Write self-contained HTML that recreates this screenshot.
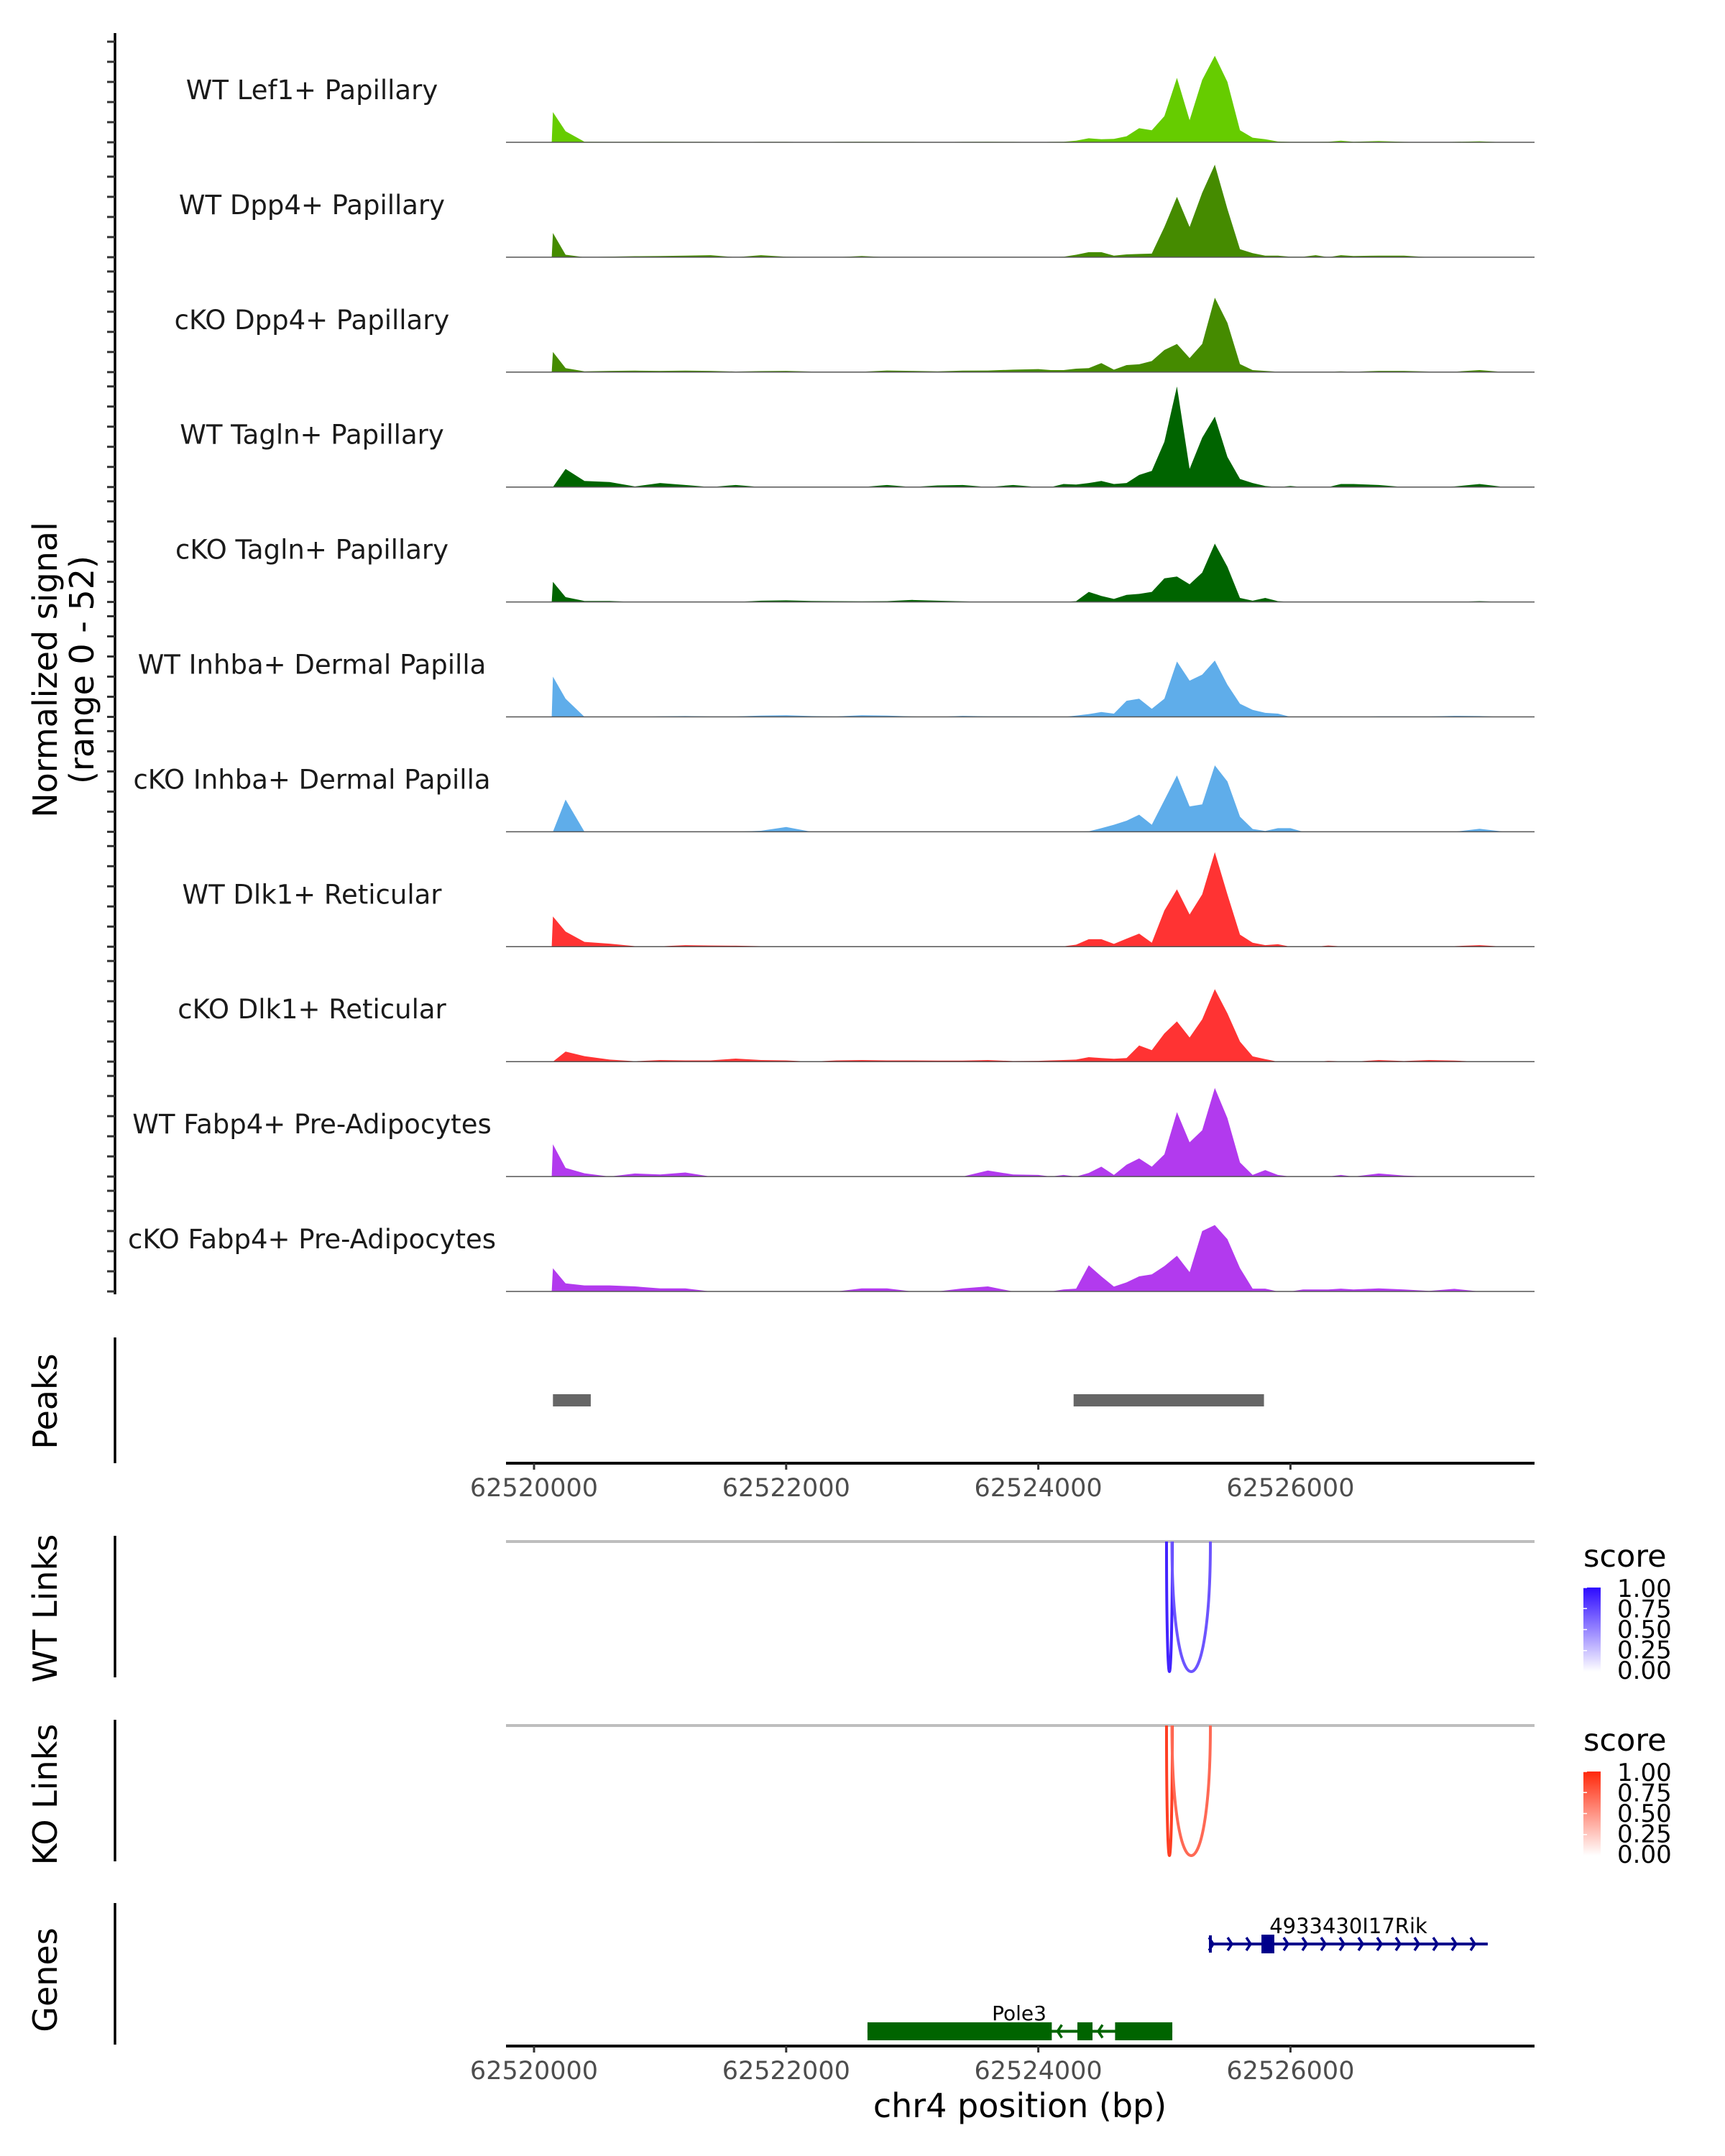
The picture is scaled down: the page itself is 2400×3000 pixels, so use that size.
<!DOCTYPE html>
<html><head><meta charset="utf-8"><style>
html,body{margin:0;padding:0;background:#fff;}
svg{display:block;font-family:"DejaVu Sans","Liberation Sans",sans-serif;}
</style></head><body>
<svg id="chart" width="2400" height="3000" viewBox="0 0 2400 3000" xmlns="http://www.w3.org/2000/svg">
<rect width="2400" height="3000" fill="#fff"/>
<g id="tracks"></g>
<g id="axes"></g>
<g id="peaks"></g>
<g id="links"></g>
<g id="genes"></g>
<text transform="translate(79,932) rotate(-90)" text-anchor="middle" font-size="46" fill="#000">Normalized signal</text>
<text transform="translate(130,932) rotate(-90)" text-anchor="middle" font-size="46" fill="#000">(range 0 - 52)</text>
<text transform="translate(79,1950) rotate(-90)" text-anchor="middle" font-size="46" fill="#000">Peaks</text>
<text transform="translate(79,2238) rotate(-90)" text-anchor="middle" font-size="46" fill="#000">WT Links</text>
<text transform="translate(79,2497) rotate(-90)" text-anchor="middle" font-size="46" fill="#000">KO Links</text>
<text transform="translate(79,2755) rotate(-90)" text-anchor="middle" font-size="46" fill="#000">Genes</text>
<text x="1419" y="2946" text-anchor="middle" font-size="46" fill="#000">chr4 position (bp)</text>
</svg>
<script>
const positions = [62520140,62520150,62520250,62520400,
62520600,62520800,62521000,62521200,62521400,62521600,62521800,62522000,62522200,62522400,62522600,62522800,62523000,62523200,62523400,62523600,62523800,
62524000,62524100,62524200,62524300,62524400,62524500,62524600,62524700,62524800,62524900,62525000,62525100,62525200,62525300,62525400,62525500,62525600,62525700,62525800,62525900,62526000,62526100,62526200,62526300,62526400,62526500,
62526700,62526900,62527100,62527300,62527500,62527700];
const trackNames = ["WT Lef1+ Papillary","WT Dpp4+ Papillary","cKO Dpp4+ Papillary","WT Tagln+ Papillary","cKO Tagln+ Papillary","WT Inhba+ Dermal Papilla","cKO Inhba+ Dermal Papilla","WT Dlk1+ Reticular","cKO Dlk1+ Reticular","WT Fabp4+ Pre-Adipocytes","cKO Fabp4+ Pre-Adipocytes"];
const sigT1 = [0,15,5.5,0.3, 0.2,0.2,0.3,0.2,0.2,0.1,0.2,0.2,0.1,0.2,0.3,0.2,0.2,0.1,0.2,0.3,0.2, 0.1,0.2,0.3,0.8,2,1.5,1.7,3,7,6,13,32,11,31,43,30,6,2.3,1.5,0.4,0.2,0.2,0.2,0.3,0.8,0.3, 0.6,0.2,0,0.2,0.5,0];
const sigT2 = [0,12,1.2,0, 0.3,0.5,0.6,0.8,1,0,1,0.2,0,0,0.6,0,0,0,0,0,0, 0,0,0.2,1.2,2.5,2.5,0.8,1.4,1.6,1.8,15,30,15,32,46,24,4,2,0.8,0.8,0.2,0.2,1,0,1,0.6, 0.8,0.8,0,0,0,0];
const sigT3 = [0,10,2,0.4, 0.6,0.7,0.6,0.7,0.6,0.3,0.5,0.6,0.3,0.3,0.2,0.8,0.6,0.4,0.7,0.8,1.2, 1.5,1,1,1.7,2,4.5,1.2,3.5,3.9,5.5,11,14,7,14,37,24.5,4,1,0.6,0.2,0.2,0.2,0.2,0.2,0.4,0.2, 0.6,0.6,0.3,0.2,1,0];
const sigT4 = [0,0,9,3, 2.5,0.3,2,1,0,1,0,0,0,0,0,1,0,0.8,1,0,1, 0,0,1.5,1.2,2,3,1.5,2,6,8,22.5,50,9,24.5,35,15,4,2,0.5,0,0.5,0,0,0,1.5,1.5, 1,0,0,0.3,1.5,0];
const sigT5 = [0,10,2.4,0.5, 0.5,0,0,0,0,0,0.6,0.8,0.5,0.4,0.3,0.4,1,0.6,0.3,0,0, 0,0,0,0.4,5,3,1.5,3.5,4,5,11.7,12.6,8.8,14.6,29,17.5,2,0.6,2,0.4,0,0,0,0,0,0, 0,0,0,0,0.4,0];
const sigT6 = [0,20,9,0, 0,0,0.3,0.4,0.2,0.2,0.6,0.8,0.4,0.2,0.8,0.6,0.2,0,0.5,0.3,0.3, 0.2,0,0,0.6,1.4,2.4,1.6,8,9,4,9,27.5,18,21,28,16,6.5,3.5,2,1.6,0,0,0,0,0.2,0, 0.3,0.3,0.2,0.5,0.4,0];
const sigT7 = [0,0,16,0, 0,0,0,0,0,0,0.5,2.4,0,0,0,0,0,0,0,0,0, 0,0,0,0,0.2,1.8,3.5,5.5,8.5,3.5,15.7,28,12.6,13.6,33,25,7.5,1.4,0.4,1.8,1.8,0,0,0,0,0, 0,0,0,0,1.5,0];
const sigT8 = [0,15,7.5,2.4, 1.5,0.3,0.2,0.8,0.6,0.5,0.3,0,0,0,0,0,0,0,0,0.3,0.3, 0,0.2,0.2,1,3.7,3.7,1.4,4,6.5,2,18,28.5,16,26,47,26,6,2,0.8,1.2,0,0,0,0.6,0.2,0.2, 0,0,0,0.3,0.8,0];
const sigT9 = [0,0,5,2.7, 1,0.2,0.8,0.6,0.6,1.5,0.8,0.6,0,0.6,0.8,0.6,0.6,0.5,0.5,0.8,0.3, 0.4,0.6,0.8,1,2.2,1.8,1.4,1.8,8,5.7,14,20,12,21,36,24,10,2.6,1.2,0,0,0,0,0.4,0.2,0, 0.8,0.3,0.8,0.5,0,0];
const sigT10 = [0,16,4.3,1.6, 0,1.5,1,2,0,0,0,0,0,0,0,0,0,0,0,3,1, 0.8,0,0.8,0,1.8,4.9,0.8,5.9,9,4.9,11,32,17,23,44,29,7,0.8,3.2,0.8,0,0,0,0,0.8,0, 1.5,0.5,0,0,0,0];
const sigT11 = [0,11.5,4,3, 3,2.5,1.5,1.5,0,0,0,0,0,0,1.5,1.5,0,0,1.5,2.5,0, 0,0,1,1.4,13,7.5,2.4,4.5,7.5,8.5,12.6,17.7,9.6,30,33,26,11.6,1.4,1.4,0,0,1,1,1,1.4,1, 1.5,1,0.3,1.3,0,0];
const xTicks = [62520000,62522000,62524000,62526000];
const peakStarts = [62520150,62524280];
const peakEnds = [62520450,62525790];
const wtLinkStarts = [62525017,62525060];
const wtLinkEnds = [62525063,62525365];
const wtLinkScores = [0.9,0.7];
const koLinkStarts = [62525017,62525060];
const koLinkEnds = [62525063,62525365];
const koLinkScores = [0.9,0.7];
const legendTicks = [0,0.25,0.5,0.75,1];
const rikExonStarts = [62525770];
const rikExonEnds = [62525872];
const rikStart = 62525365, rikEnd = 62527565;
const pole3ExonStarts = [62522645,62524310,62524609];
const pole3ExonEnds = [62524107,62524430,62525063];

const NS="http://www.w3.org/2000/svg";
const signals=[sigT1,sigT2,sigT3,sigT4,sigT5,sigT6,sigT7,sigT8,sigT9,sigT10,sigT11];
const colors=["#66cc00","#458b00","#458b00","#006400","#006400","#5fadea","#5fadea","#ff3333","#ff3333","#b23aee","#b23aee"];
const X0=704,X1=2135;
function xs(bp){return 743+(bp-62520000)*0.1754;}
function base(i){return 198+159.9*i;}
function ys(i,v){return base(i)-v*2.8;}
function mk(tag,attrs,parent){const e=document.createElementNS(NS,tag);for(const k in attrs)e.setAttribute(k,attrs[k]);parent.appendChild(e);return e;}
const tracks=document.getElementById('tracks');
const axes=document.getElementById('axes');
let ax=mk('line',{x1:160,y1:46,x2:160,y2:1801,stroke:'#000','stroke-width':3.5},axes);


for(let i=0;i<11;i++){
  const g=mk('g',{},tracks);
  
  
  const sig=signals[i];
  let d='M'+xs(positions[0]).toFixed(1)+','+base(i).toFixed(1);
  for(let j=0;j<positions.length;j++){d+=' L'+xs(positions[j]).toFixed(1)+','+ys(i,sig[j]).toFixed(1);}
  d+=' L'+xs(positions[positions.length-1]).toFixed(1)+','+base(i).toFixed(1)+' Z';
  const p=mk('path',{d:d,fill:colors[i]},g);
  
  
  const bl=mk('line',{x1:X0,x2:X1,y1:base(i),y2:base(i),stroke:'#555','stroke-width':1.5},g);
  
  
  const t=mk('text',{x:434,y:base(i)-60,'text-anchor':'middle','font-size':37,fill:'#1a1a1a'},g);
  t.textContent=trackNames[i];
  
  
  for(let k=0;k<=50;k+=10){
    const tk=mk('line',{x1:149,x2:160,y1:ys(i,k),y2:ys(i,k),stroke:'#333','stroke-width':3},axes);
    
    
  }
}
[[1861,2036],[2137,2334],[2393,2590],[2648,2845]].forEach(function(r){
  const l=mk('line',{x1:160,x2:160,y1:r[0],y2:r[1],stroke:'#000','stroke-width':3.5},axes);
  
  
});
function xAxis(y){
  const l=mk('line',{x1:X0,x2:X1,y1:y,y2:y,stroke:'#000','stroke-width':4},axes);
  
  
  xTicks.forEach(function(v){
    const t=mk('line',{x1:xs(v),x2:xs(v),y1:y,y2:y+9,stroke:'#333','stroke-width':3},axes);
    
    
    const lb=mk('text',{x:xs(v),y:y+46,'text-anchor':'middle','font-size':35,fill:'#4d4d4d'},axes);
    lb.textContent=String(v);
    
    
  });
}
xAxis(2036);xAxis(2847);
const peaks=document.getElementById('peaks');
for(let i=0;i<peakStarts.length;i++){
  const r=mk('rect',{x:xs(peakStarts[i]),y:1940,width:xs(peakEnds[i])-xs(peakStarts[i]),height:17,fill:'#666666'},peaks);
  
  
}
const links=document.getElementById('links');
function mix(c,s){const r=Math.round(255+(c[0]-255)*s),g=Math.round(255+(c[1]-255)*s),b=Math.round(255+(c[2]-255)*s);return 'rgb('+r+','+g+','+b+')';}
function linkPanel(y0,starts,ends,scores,col,name){
  const gl=mk('line',{x1:X0,x2:X1,y1:y0,y2:y0,stroke:'#bebebe','stroke-width':4},links);
  
  
  const depth=181;
  for(let i=0;i<starts.length;i++){
    const a=xs(starts[i]),b=xs(ends[i]),c=y0+depth*4/3;
    const p=mk('path',{d:'M'+a+','+y0+' C'+a+','+c+' '+b+','+c+' '+b+','+y0,fill:'none',stroke:mix(col,scores[i]),'stroke-width':4},links);
    
    
  }
  const ly=y0+64;
  const gid=name+'-grad';
  const defs=mk('defs',{},links);
  const lg=mk('linearGradient',{id:gid,x1:0,y1:1,x2:0,y2:0},defs);
  mk('stop',{offset:0,'stop-color':'#fff'},lg);
  mk('stop',{offset:1,'stop-color':mix(col,1)},lg);
  const title=mk('text',{x:2203,y:y0+35,'font-size':43,fill:'#000'},links);
  title.textContent='score';
  
  
  const bar=mk('rect',{x:2203,y:ly,width:24,height:117,fill:'url(#'+gid+')'},links);
  
  
  legendTicks.forEach(function(v){
    const yy=ly+117-v*117;
    const tk=mk('line',{x1:2203,x2:2208,y1:yy,y2:yy,stroke:'#fff','stroke-width':1.5},links);
    
    
    const t=mk('text',{x:2250,y:y0+191-v*114,'font-size':34,fill:'#000'},links);
    t.textContent=v.toFixed(2);
    
    
  });
}
linkPanel(2145,wtLinkStarts,wtLinkEnds,wtLinkScores,[45,10,255],'wt-links');
linkPanel(2401,koLinkStarts,koLinkEnds,koLinkScores,[255,40,10],'ko-links');
const genes=document.getElementById('genes');
(function(){
  const col='#00008b',y=2705;
  const l=mk('line',{x1:xs(rikStart),x2:xs(rikEnd),y1:y,y2:y,stroke:col,'stroke-width':4},genes);
  
  
  for(let x=xs(rikStart)+4;x<=xs(rikEnd);x+=26){
    const a=mk('path',{d:'M'+(x-6)+','+(y-9)+' L'+x+','+y+' L'+(x-6)+','+(y+9),fill:'none',stroke:col,'stroke-width':3.5},genes);
    
    
  }
  const tk=mk('line',{x1:xs(rikStart),x2:xs(rikStart),y1:y-12,y2:y+12,stroke:col,'stroke-width':4},genes);
  
  
  for(let i=0;i<rikExonStarts.length;i++){
    const r=mk('rect',{x:xs(rikExonStarts[i]),y:2692,width:xs(rikExonEnds[i])-xs(rikExonStarts[i]),height:26,fill:col},genes);
    
    
  }
  const t=mk('text',{x:1876,y:2690,'text-anchor':'middle','font-size':29,fill:'#000'},genes);
  t.textContent='4933430I17Rik';
  
  
})();
(function(){
  const col='#006400',y=2826.5;
  const l=mk('line',{x1:xs(pole3ExonStarts[0]),x2:xs(pole3ExonEnds[2]),y1:y,y2:y,stroke:col,'stroke-width':4},genes);
  
  
  for(let i=0;i<pole3ExonStarts.length-1;i++){
    const a0=xs(pole3ExonEnds[i]),a1=xs(pole3ExonStarts[i+1]);
    for(let x=a0+8;x<a1-6;x+=26){
      const a=mk('path',{d:'M'+(x+6)+','+(y-9)+' L'+x+','+y+' L'+(x+6)+','+(y+9),fill:'none',stroke:col,'stroke-width':3.5},genes);
      
      
    }
  }
  for(let i=0;i<pole3ExonStarts.length;i++){
    const r=mk('rect',{x:xs(pole3ExonStarts[i]),y:2814,width:xs(pole3ExonEnds[i])-xs(pole3ExonStarts[i]),height:25,fill:col},genes);
    
    
  }
  const t=mk('text',{x:1418,y:2811,'text-anchor':'middle','font-size':28,fill:'#000'},genes);
  t.textContent='Pole3';
  
  
})();
</script>
</body></html>
